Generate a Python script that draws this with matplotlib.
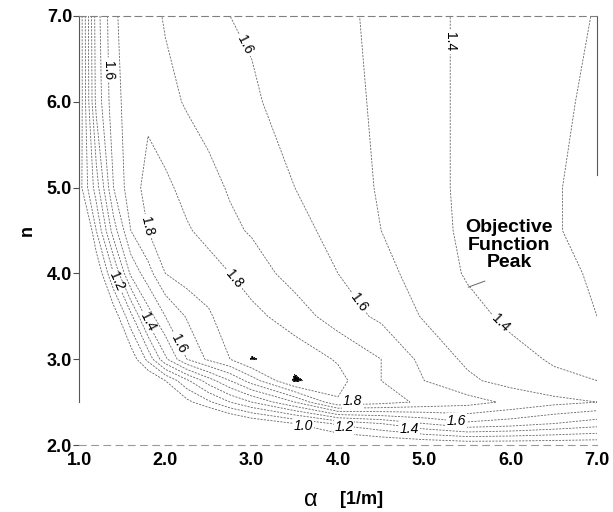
import numpy as np
import matplotlib
matplotlib.use("Agg")
import matplotlib.pyplot as plt

plt.rcParams['font.family'] = ['Liberation Sans', 'DejaVu Sans']

# grid of alpha [1/m] (columns) and n (rows)
alpha = [1.0, 1.2, 1.4, 1.6, 1.8, 2.0, 2.25, 2.5, 2.75, 3.0, 3.5, 4.0, 4.5, 5.0, 5.5, 6.0, 6.5, 7.0]
n_vals = [2.0, 2.25, 2.5, 2.75, 3.0, 3.5, 4.0, 4.5, 5.0, 6.0, 7.0]

z_n200 = [0.30, 0.35, 0.40, 0.45, 0.50, 0.55, 0.62, 0.70, 0.75, 0.78, 0.82, 0.85, 0.88, 0.90, 0.92, 0.92, 0.92, 0.92]
z_n225 = [0.35, 0.40, 0.45, 0.50, 0.55, 0.60, 0.67, 0.75, 0.83, 0.90, 1.00, 1.12, 1.20, 1.30, 1.38, 1.35, 1.30, 1.25]
z_n250 = [0.42, 0.48, 0.55, 0.62, 0.70, 0.80, 0.97, 1.08, 1.20, 1.30, 1.50, 1.79, 1.74, 1.68, 1.64, 1.58, 1.53, 1.50]
z_n275 = [0.50, 0.58, 0.66, 0.76, 0.88, 1.00, 1.18, 1.35, 1.50, 1.65, 1.915, 1.83, 1.70, 1.60, 1.52, 1.46, 1.42, 1.40]
z_n300 = [0.55, 0.65, 0.78, 0.93, 1.13, 1.38, 1.60, 1.72, 1.80, 1.905, 1.86, 1.79, 1.70, 1.57, 1.48, 1.43, 1.39, 1.37]
z_n350 = [0.65, 0.78, 0.93, 1.17, 1.45, 1.60, 1.71, 1.79, 1.84, 1.83, 1.75, 1.65, 1.58, 1.49, 1.43, 1.38, 1.33, 1.30]
z_n400 = [0.70, 0.90, 1.20, 1.52, 1.66, 1.80, 1.85, 1.84, 1.80, 1.75, 1.66, 1.60, 1.53, 1.46, 1.39, 1.35, 1.32, 1.29]
z_n450 = [0.70, 1.10, 1.45, 1.70, 1.80, 1.83, 1.81, 1.77, 1.72, 1.69, 1.63, 1.57, 1.50, 1.44, 1.38, 1.34, 1.305, 1.28]
z_n500 = [0.95, 1.25, 1.60, 1.76, 1.83, 1.82, 1.77, 1.73, 1.69, 1.66, 1.60, 1.55, 1.49, 1.43, 1.38, 1.35, 1.305, 1.28]
z_n600 = [0.90, 1.43, 1.66, 1.75, 1.78, 1.73, 1.69, 1.66, 1.64, 1.61, 1.57, 1.54, 1.48, 1.43, 1.38, 1.35, 1.32, 1.28]
z_n700 = [0.90, 1.45, 1.68, 1.76, 1.74, 1.69, 1.66, 1.64, 1.60, 1.59, 1.56, 1.52, 1.48, 1.43, 1.38, 1.35, 1.33, 1.295]

levels = [1.0, 1.1, 1.2, 1.3, 1.4, 1.5, 1.6, 1.7, 1.8, 1.9]
peak_level = 1.9
x_ticks = [1.0, 2.0, 3.0, 4.0, 5.0, 6.0, 7.0]
y_ticks = [2.0, 3.0, 4.0, 5.0, 6.0, 7.0]

# inline contour label positions (data coords, as in the original)
label_pos = [(1.30, 6.37), (2.87, 6.64), (5.28, 6.70), (1.80, 4.55), (2.76, 3.91),
             (4.15, 3.60), (5.86, 3.40), (1.42, 3.90), (1.79, 3.43), (2.20, 3.20)]
# horizontal italic labels near the bottom
bottom_labels = ['1.0', '1.2', '1.8', '1.4', '1.6']
bottom_alpha = [3.60, 4.07, 4.17, 4.83, 5.37]
bottom_n = [2.22, 2.21, 2.51, 2.19, 2.28]

Z = np.array([z_n200, z_n225, z_n250, z_n275, z_n300, z_n350, z_n400,
              z_n450, z_n500, z_n600, z_n700])
A, N = np.meshgrid(alpha, n_vals)

fig = plt.figure(figsize=(6.13, 5.12), dpi=100)
ax = fig.add_axes([79/613, 1-445/512, 518/613, 429/512])

cs = ax.contour(A, N, Z, levels=levels, colors='0.4', linewidths=0.6,
                linestyles=[(0, (2.5, 1.5))])
ax.contourf(A, N, Z, levels=[peak_level, 5.0], colors='black')
ax.clabel(cs, levels=levels, manual=label_pos, fmt='%.1f', fontsize=10,
          colors='black', inline=True, inline_spacing=3)

for t, xa, yn in zip(bottom_labels, bottom_alpha, bottom_n):
    ax.text(xa, yn, t, fontsize=10, style='italic', ha='center', va='center',
            bbox=dict(facecolor='white', edgecolor='none', pad=0.5))

ax.set_xlim(1.0, 7.0)
ax.set_ylim(2.0, 7.0)
ax.set_xticks(x_ticks)
ax.set_yticks(y_ticks)
ax.set_xticklabels([f'{v:.1f}' for v in x_ticks], fontweight='bold', fontsize=13)
ax.set_yticklabels([f'{v:.1f}' for v in y_ticks], fontweight='bold', fontsize=13)
ax.tick_params(axis='x', length=0, pad=5)
ax.tick_params(axis='y', length=4, width=0.8, color='0.3', pad=1)

for s in ['left', 'right', 'top', 'bottom']:
    ax.spines[s].set_color('0.35')
    ax.spines[s].set_linewidth(0.8)
ax.spines['left'].set_bounds(2.5, 7.0)
ax.spines['right'].set_bounds(5.15, 7.0)
ax.spines['top'].set_linestyle((0, (6, 4)))
ax.spines['bottom'].set_linestyle((0, (6, 5)))
ax.spines['top'].set_color('0.5')
ax.spines['bottom'].set_color('0.6')

ax.text(5.98, 4.33, 'Objective\nFunction\nPeak', ha='center', va='center',
        fontsize=14, fontweight='bold', linespacing=1.05)
ax.plot([5.70, 5.51], [3.91, 3.84], color='0.4', lw=0.7)

ax.set_ylabel('n', fontsize=13, fontweight='bold', labelpad=8)
fig.text(311/613, 1-500/512, 'α', fontsize=17, ha='center', va='center')
fig.text(362/613, 1-499/512, '[1/m]', fontsize=13, fontweight='bold',
         ha='center', va='center')

fig.savefig('out.png', dpi=100)
